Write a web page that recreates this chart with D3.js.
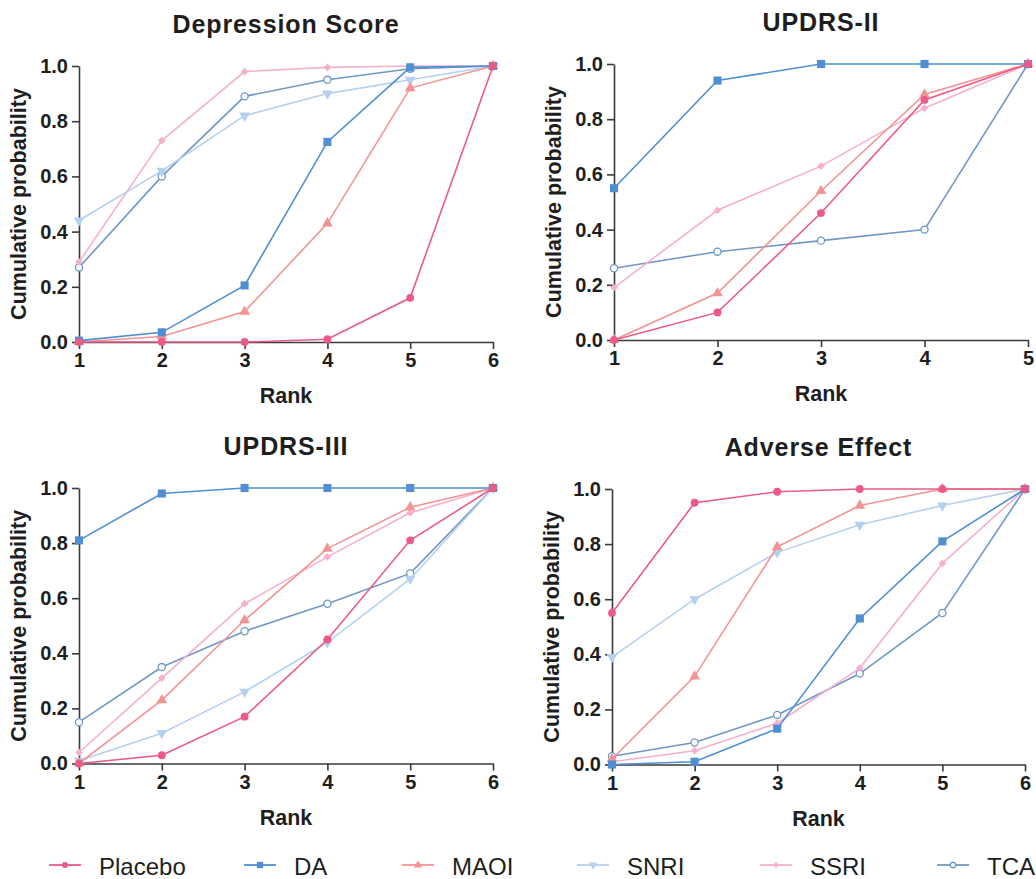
<!DOCTYPE html>
<html>
<head>
<meta charset="utf-8">
<script src="https://cdn.jsdelivr.net/npm/d3@7"></script>
<style>
  body { margin: 0; background: #fff; }
  svg { display: block; }
</style>
</head>
<body>
<svg id="chart"></svg>
<script>
// groups in legend order
var groups = ['Placebo', 'DA', 'MAOI', 'SNRI', 'SSRI', 'TCA'];
var colors = ['#ec5b87', '#4f8fd2', '#f39494', '#b5d1ef', '#f5b1cb', '#7197c6'];
var shapes = ['circle', 'square', 'triangle', 'triangleDown', 'diamond', 'openCircle'];

var ranks6 = [1, 2, 3, 4, 5, 6];
var ranks5 = [1, 2, 3, 4, 5];
var yTicks = [0, 0.2, 0.4, 0.6, 0.8, 1.0];

// cumulative probabilities, one row per group (same order as groups)
var depression = [
  [0, 0, 0, 0.01, 0.16, 1],
  [0.005, 0.035, 0.205, 0.725, 0.995, 1],
  [0, 0.02, 0.11, 0.43, 0.92, 1],
  [0.44, 0.62, 0.82, 0.90, 0.95, 1],
  [0.29, 0.73, 0.98, 0.995, 1, 1],
  [0.27, 0.60, 0.89, 0.95, 0.99, 1]
];

var updrs2 = [
  [0, 0.10, 0.46, 0.87, 1],
  [0.55, 0.94, 1, 1, 1],
  [0, 0.17, 0.54, 0.89, 1],
  null,   // no SNRI in this outcome
  [0.19, 0.47, 0.63, 0.84, 1],
  [0.26, 0.32, 0.36, 0.40, 1]
];

var updrs3 = [
  [0, 0.03, 0.17, 0.45, 0.81, 1],
  [0.81, 0.98, 1, 1, 1, 1],
  [0, 0.23, 0.52, 0.78, 0.93, 1],
  [0.01, 0.11, 0.26, 0.44, 0.67, 1],
  [0.04, 0.31, 0.58, 0.75, 0.91, 1],
  [0.15, 0.35, 0.48, 0.58, 0.69, 1]
];

var adverse = [
  [0.55, 0.95, 0.99, 1, 1, 1],
  [0, 0.01, 0.13, 0.53, 0.81, 1],
  [0.02, 0.32, 0.79, 0.94, 1, 1],
  [0.39, 0.60, 0.77, 0.87, 0.94, 1],
  [0.01, 0.05, 0.15, 0.35, 0.73, 1],
  [0.03, 0.08, 0.18, 0.33, 0.55, 1]
];

var width = 1036;
var height = 879;

var svg = d3.select('#chart')
  .attr('width', width)
  .attr('height', height)
  .style('font-family', '"Liberation Sans", Arial, Helvetica, sans-serif');

// panel layout (plot area in pixels)
var panels = [
  { title: 'Depression Score', data: depression, ranks: ranks6, x0: 79, x1: 493, y0: 66, y1: 342 },
  { title: 'UPDRS-II', data: updrs2, ranks: ranks5, x0: 614, x1: 1028, y0: 64, y1: 340 },
  { title: 'UPDRS-III', data: updrs3, ranks: ranks6, x0: 79, x1: 493, y0: 488, y1: 763.5 },
  { title: 'Adverse Effect', data: adverse, ranks: ranks6, x0: 612, x1: 1025, y0: 489, y1: 764.5 }
];

function symbolPath(shape, scale) {
  var s = scale || 1;
  if (shape === 'circle') return d3.symbol(d3.symbolCircle, 48 * s)();
  if (shape === 'openCircle') return d3.symbol(d3.symbolCircle, 40 * s)();
  if (shape === 'square') return d3.symbol(d3.symbolSquare, 66 * s)();
  if (shape === 'triangle' || shape === 'triangleDown') return d3.symbol(d3.symbolTriangle, 50 * s)();
  if (shape === 'diamond') return d3.symbol(d3.symbolSquare, 30 * s)();  // rotated below
}

function drawMarker(sel, shape, color, scale) {
  var p = sel.append('path')
    .attr('d', symbolPath(shape, scale));
  if (shape === 'openCircle') {
    p.attr('fill', '#fff').attr('stroke', color).attr('stroke-width', 1.3);
  } else {
    p.attr('fill', color);
  }
  if (shape === 'triangleDown') {
    p.attr('transform', 'rotate(180)');
  }
  if (shape === 'diamond') {
    p.attr('transform', 'rotate(45)');
  }
  return p;
}

panels.forEach(function(pn) {
  var x = d3.scaleLinear()
    .domain([pn.ranks[0], pn.ranks[pn.ranks.length - 1]])
    .range([pn.x0, pn.x1]);
  var y = d3.scaleLinear()
    .domain([0, 1])
    .range([pn.y1, pn.y0]);

  var g = svg.append('g');

  // title
  g.append('text')
    .attr('x', (pn.x0 + pn.x1) / 2)
    .attr('y', pn.y0 - 33.5)
    .attr('text-anchor', 'middle')
    .attr('font-size', '25px')
    .attr('font-weight', 'bold')
    .attr('letter-spacing', '0.9px')
    .attr('fill', '#1e1e1e')
    .text(pn.title);

  // axes
  var yAxis = d3.axisLeft(y)
    .tickValues(yTicks)
    .tickFormat(d3.format('.1f'))
    .tickSizeInner(7)
    .tickSizeOuter(0)
    .tickPadding(4);
  var xAxis = d3.axisBottom(x)
    .tickValues(pn.ranks)
    .tickFormat(d3.format('d'))
    .tickSizeInner(7)
    .tickSizeOuter(0)
    .tickPadding(4);

  var gy = g.append('g')
    .attr('transform', 'translate(' + pn.x0 + ',0)')
    .call(yAxis);
  var gx = g.append('g')
    .attr('transform', 'translate(0,' + pn.y1 + ')')
    .call(xAxis);

  [gx, gy].forEach(function(ax) {
    ax.select('.domain').attr('stroke', '#3a3a3a').attr('stroke-width', 1.6);
    ax.selectAll('.tick line').attr('stroke', '#3a3a3a').attr('stroke-width', 1.6);
    ax.selectAll('.tick text')
      .attr('font-size', '20px')
      .attr('font-weight', 'bold')
      .attr('fill', '#1e1e1e')
      .style('font-family', '"Liberation Sans", Arial, sans-serif');
  });

  // axis labels
  g.append('text')
    .attr('x', (pn.x0 + pn.x1) / 2)
    .attr('y', pn.y1 + 61)
    .attr('text-anchor', 'middle')
    .attr('font-size', '21.5px')
    .attr('font-weight', 'bold')
    .attr('fill', '#1e1e1e')
    .text('Rank');

  g.append('text')
    .attr('transform', 'translate(' + (pn.x0 - 53) + ',' + ((pn.y0 + pn.y1) / 2) + ') rotate(-90)')
    .attr('text-anchor', 'middle')
    .attr('font-size', '21.5px')
    .attr('font-weight', 'bold')
    .attr('fill', '#1e1e1e')
    .text('Cumulative probability');

  var line = d3.line()
    .x(function(d, i) { return x(pn.ranks[i]); })
    .y(function(d) { return y(d); });

  // draw in reverse order so that Placebo ends up on top
  for (var k = groups.length - 1; k >= 0; k--) {
    var vals = pn.data[k];
    if (!vals) continue;
    var sg = g.append('g');
    sg.append('path')
      .datum(vals)
      .attr('d', line)
      .attr('fill', 'none')
      .attr('stroke', colors[k])
      .attr('stroke-width', 1.6);
    vals.forEach(function(v, i) {
      var mg = sg.append('g')
        .attr('transform', 'translate(' + x(pn.ranks[i]) + ',' + y(v) + ')');
      drawMarker(mg, shapes[k], colors[k], 1);
    });
  }
});

// legend along the bottom
var legendX = [49, 244, 402, 577, 760, 937];
var legendY = 865;
groups.forEach(function(name, k) {
  var lg = svg.append('g')
    .attr('transform', 'translate(' + legendX[k] + ',' + legendY + ')');
  lg.append('line')
    .attr('x1', 0).attr('x2', 32)
    .attr('y1', 0).attr('y2', 0)
    .attr('stroke', colors[k])
    .attr('stroke-width', 1.8);
  var mg = lg.append('g').attr('transform', 'translate(16,0)');
  drawMarker(mg, shapes[k], colors[k], 0.6);
  lg.append('text')
    .attr('x', 50)
    .attr('y', 9.5)
    .attr('font-size', '24px')
    .attr('fill', '#1e1e1e')
    .text(name);
});
</script>
</body>
</html>
